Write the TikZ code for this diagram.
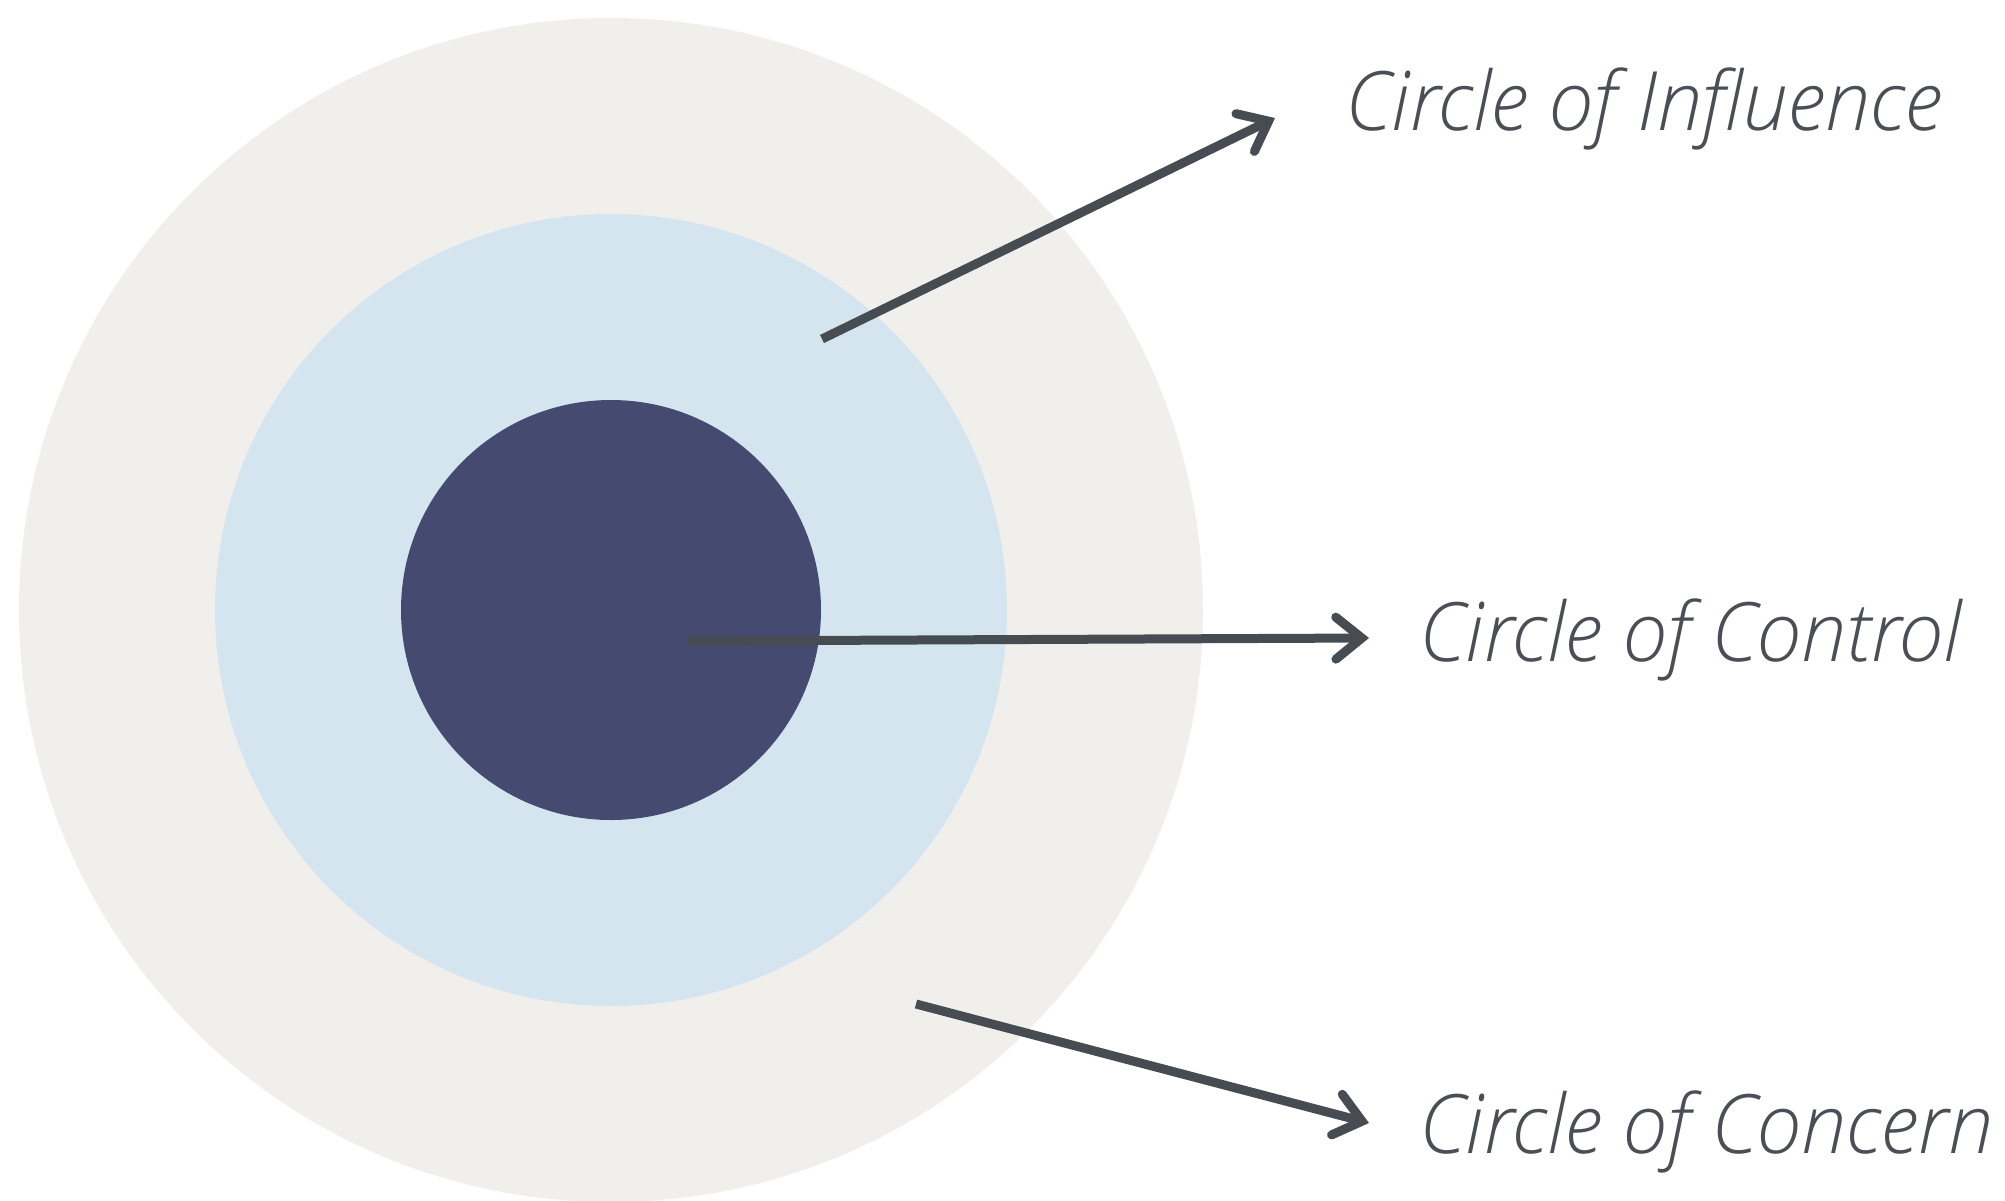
\documentclass[tikz,border=0pt]{standalone}
\usepackage{fontspec}
\setmainfont{Open Sans}
\IfFontExistsTF{Open Sans Light Italic}{%
  \newfontfamily\labelfont[FakeStretch=0.985]{Open Sans Light Italic}}{%
  \newfontfamily\labelfont[FakeStretch=0.985]{Open Sans Italic}}
\usetikzlibrary{arrows.meta, positioning}
\definecolor{concernfill}{HTML}{F0EFEC}
\definecolor{influencefill}{HTML}{D5E5EF}
\definecolor{controlfill}{HTML}{454B70}
\definecolor{arrowgray}{HTML}{474B52}
\definecolor{textgray}{HTML}{4A4E55}
\tikzset{
  ring/.style={circle, draw=none, inner sep=0pt},
  lbl/.style={anchor=base west, inner sep=0pt, text=textgray,
    font=\labelfont\fontsize{82}{96}\selectfont},
  arr/.style={-{Straight Barb[length=26pt, width=42pt, line cap=round]},
    line width=9pt, draw=arrowgray}
}

\begin{document}
\begin{tikzpicture}[x=1pt, y=-1pt]
\useasboundingbox (0,0) rectangle (2005,1200);

% ── Concentric circles ─────────────────────────────────────
\coordinate (ctr) at (611,610);
\fill[concernfill]   (ctr) circle[radius=592];
\fill[influencefill] (ctr) circle[radius=396];
\fill[controlfill]   (ctr) circle[radius=210];

% ── Labels ─────────────────────────────────────────────────
\node[lbl] (influence) at (1345,130) {Circle of Influence};
\node[lbl] (control)   at (1419,661) {Circle of Control};
\node[lbl] (concern)   at (1419,1153) {Circle of Concern};

% ── Arrow end points ───────────────────────────────────────
\coordinate (inflFrom) at (822,339);
\coordinate (inflTo)   at (1275,118);
\coordinate (ctrlFrom) at (688,641);
\coordinate (ctrlTo)   at (1369,638);
\coordinate (concFrom) at (916,1004);
\coordinate (concTo)   at (1369,1123);

% ── Arrows ─────────────────────────────────────────────────
\draw[arr] (inflFrom) -- (inflTo);
\draw[arr] (ctrlFrom) -- (ctrlTo);
\draw[arr] (concFrom) -- (concTo);

\end{tikzpicture}
\end{document}
